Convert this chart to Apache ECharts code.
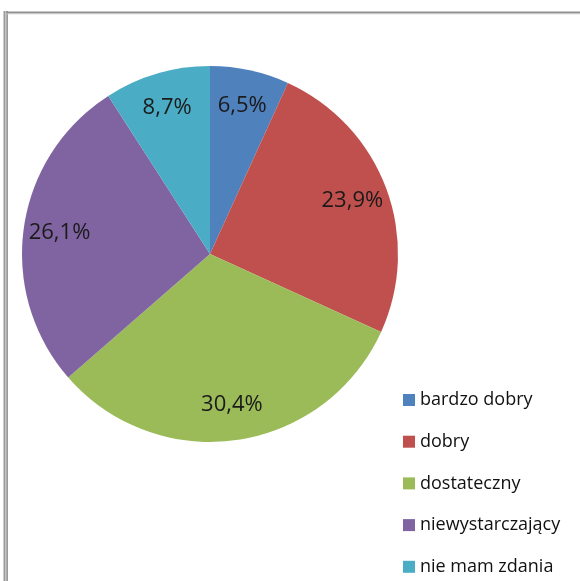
<!DOCTYPE html>
<html>
<head>
<meta charset="utf-8">
<script src="https://cdn.jsdelivr.net/npm/echarts@6/dist/echarts.min.js"></script>
<style>
html,body{margin:0;padding:0;background:#fff;}
#c{width:580px;height:581px;}
</style>
</head>
<body>
<div id="c"></div>
<script>
const categories = ['bardzo dobry', 'dobry', 'dostateczny', 'niewystarczający', 'nie mam zdania'];
const values = [6.5, 23.9, 30.4, 26.1, 8.7];
const colors = ['#4F81BD', '#C0504D', '#9BBB59', '#8064A2', '#4BACC6'];

const chart = echarts.init(document.getElementById('c'), null, {renderer: 'canvas'});
const data = categories.map((n, i) => ({name: n, value: values[i], itemStyle: {color: colors[i]}}));
const fmt = p => String(p.value.toFixed(1)).replace('.', ',') + '%';

chart.setOption({
  animation: false,
  backgroundColor: '#ffffff',
  legend: {
    orient: 'vertical',
    left: 403,
    top: 390,
    height: 200,
    padding: 0,
    itemWidth: 12,
    itemHeight: 12,
    itemGap: 21.7,
    icon: 'rect',
    selectedMode: false,
    textStyle: {fontFamily: 'Open Sans', fontSize: 18, color: '#111', lineHeight: 20},
    data: categories
  },
  graphic: [
    {type: 'rect', shape: {x: 3.5, y: 11, width: 4.5, height: 575}, style: {fill: '#9a9a9a'}, silent: true},
    {type: 'rect', shape: {x: 5.2, y: 11, width: 1.2, height: 575}, style: {fill: '#cfcfcf'}, silent: true},
    {type: 'rect', shape: {x: 6, y: 11.5, width: 580, height: 2}, style: {fill: '#8f8f8f'}, silent: true},
    {type: 'rect', shape: {x: 6, y: 13.5, width: 580, height: 0.8}, style: {fill: '#c8c8c8'}, silent: true}
  ],
  series: [
    {
      type: 'pie',
      center: [210, 254],
      radius: [0, 188],
      startAngle: 90,
      clockwise: true,
      silent: true,
      label: {show: false},
      labelLine: {show: false},
      itemStyle: {borderWidth: 0},
      data: data
    },
    {
      type: 'pie',
      center: [210, 254],
      radius: [110, 188],
      startAngle: 90,
      clockwise: true,
      silent: true,
      legendHoverLink: false,
      itemStyle: {color: 'rgba(0,0,0,0)', borderWidth: 0},
      label: {
        show: true,
        position: 'inside',
        formatter: fmt,
        fontFamily: 'Open Sans',
        fontSize: 22,
        color: '#1a1a1a'
      },
      labelLine: {show: false},
      data: categories.map((n, i) => ({name: n + ' ', value: values[i]}))
    }
  ]
});
</script>
</body>
</html>
